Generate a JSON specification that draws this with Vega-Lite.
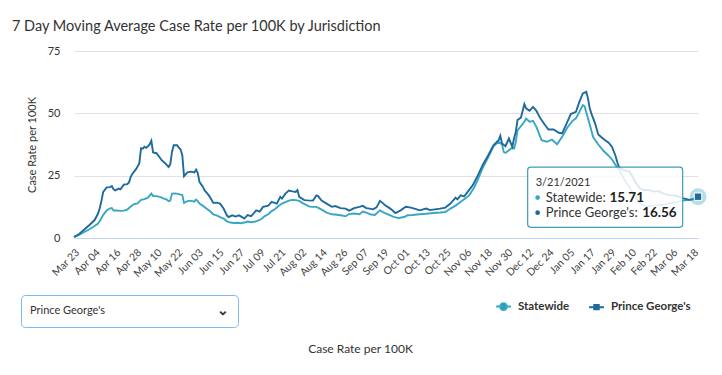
{
  "$schema": "https://vega.github.io/schema/vega-lite/v6.json",
  "width": 624,
  "height": 187,
  "autosize": {"type": "none"},
  "padding": {"left": 74, "top": 51, "right": 24, "bottom": 137},
  "background": "white",
  "config": {
    "font": "Lato",
    "view": {"stroke": null},
    "axis": {"labelFont": "Lato", "titleFont": "Lato"}
  },
  "title": {
    "text": "7 Day Moving Average Case Rate per 100K by Jurisdiction",
    "anchor": "start",
    "frame": "group",
    "dx": -62,
    "offset": 11,
    "fontSize": 14.5,
    "fontWeight": "normal",
    "color": "#333333"
  },
  "datasets": {
    "cases": [
      {"date": "2020-03-23", "series": "Statewide", "value": 0.4},
      {"date": "2020-03-26", "series": "Statewide", "value": 1.2},
      {"date": "2020-03-29", "series": "Statewide", "value": 2.4},
      {"date": "2020-04-01", "series": "Statewide", "value": 3.5},
      {"date": "2020-04-04", "series": "Statewide", "value": 4.8},
      {"date": "2020-04-06", "series": "Statewide", "value": 5.8},
      {"date": "2020-04-07", "series": "Statewide", "value": 6.8},
      {"date": "2020-04-09", "series": "Statewide", "value": 9.3},
      {"date": "2020-04-11", "series": "Statewide", "value": 11.0},
      {"date": "2020-04-13", "series": "Statewide", "value": 11.9},
      {"date": "2020-04-14", "series": "Statewide", "value": 12.0},
      {"date": "2020-04-15", "series": "Statewide", "value": 11.0},
      {"date": "2020-04-17", "series": "Statewide", "value": 11.0},
      {"date": "2020-04-19", "series": "Statewide", "value": 10.9},
      {"date": "2020-04-21", "series": "Statewide", "value": 11.0},
      {"date": "2020-04-23", "series": "Statewide", "value": 11.4},
      {"date": "2020-04-25", "series": "Statewide", "value": 12.6},
      {"date": "2020-04-27", "series": "Statewide", "value": 13.6},
      {"date": "2020-04-29", "series": "Statewide", "value": 13.9},
      {"date": "2020-05-01", "series": "Statewide", "value": 15.3},
      {"date": "2020-05-03", "series": "Statewide", "value": 15.6},
      {"date": "2020-05-05", "series": "Statewide", "value": 16.2},
      {"date": "2020-05-07", "series": "Statewide", "value": 17.8},
      {"date": "2020-05-08", "series": "Statewide", "value": 16.8},
      {"date": "2020-05-10", "series": "Statewide", "value": 16.8},
      {"date": "2020-05-12", "series": "Statewide", "value": 16.5},
      {"date": "2020-05-14", "series": "Statewide", "value": 15.9},
      {"date": "2020-05-16", "series": "Statewide", "value": 15.4},
      {"date": "2020-05-17", "series": "Statewide", "value": 14.8},
      {"date": "2020-05-18", "series": "Statewide", "value": 15.0},
      {"date": "2020-05-19", "series": "Statewide", "value": 17.8},
      {"date": "2020-05-21", "series": "Statewide", "value": 17.9},
      {"date": "2020-05-23", "series": "Statewide", "value": 17.6},
      {"date": "2020-05-25", "series": "Statewide", "value": 17.2},
      {"date": "2020-05-26", "series": "Statewide", "value": 14.1},
      {"date": "2020-05-28", "series": "Statewide", "value": 14.8},
      {"date": "2020-05-30", "series": "Statewide", "value": 15.0},
      {"date": "2020-06-01", "series": "Statewide", "value": 14.6},
      {"date": "2020-06-02", "series": "Statewide", "value": 15.4},
      {"date": "2020-06-03", "series": "Statewide", "value": 14.8},
      {"date": "2020-06-04", "series": "Statewide", "value": 13.8},
      {"date": "2020-06-06", "series": "Statewide", "value": 12.9},
      {"date": "2020-06-08", "series": "Statewide", "value": 11.8},
      {"date": "2020-06-10", "series": "Statewide", "value": 10.8},
      {"date": "2020-06-12", "series": "Statewide", "value": 9.5},
      {"date": "2020-06-14", "series": "Statewide", "value": 9.1},
      {"date": "2020-06-16", "series": "Statewide", "value": 8.4},
      {"date": "2020-06-18", "series": "Statewide", "value": 7.8},
      {"date": "2020-06-20", "series": "Statewide", "value": 6.7},
      {"date": "2020-06-22", "series": "Statewide", "value": 6.2},
      {"date": "2020-06-24", "series": "Statewide", "value": 6.0},
      {"date": "2020-06-26", "series": "Statewide", "value": 6.1},
      {"date": "2020-06-28", "series": "Statewide", "value": 5.9},
      {"date": "2020-06-30", "series": "Statewide", "value": 6.2},
      {"date": "2020-07-02", "series": "Statewide", "value": 6.6},
      {"date": "2020-07-04", "series": "Statewide", "value": 6.3},
      {"date": "2020-07-06", "series": "Statewide", "value": 6.5},
      {"date": "2020-07-08", "series": "Statewide", "value": 7.0},
      {"date": "2020-07-10", "series": "Statewide", "value": 7.6},
      {"date": "2020-07-12", "series": "Statewide", "value": 8.8},
      {"date": "2020-07-14", "series": "Statewide", "value": 9.5},
      {"date": "2020-07-16", "series": "Statewide", "value": 10.8},
      {"date": "2020-07-18", "series": "Statewide", "value": 11.6},
      {"date": "2020-07-20", "series": "Statewide", "value": 12.8},
      {"date": "2020-07-22", "series": "Statewide", "value": 13.8},
      {"date": "2020-07-24", "series": "Statewide", "value": 14.4},
      {"date": "2020-07-26", "series": "Statewide", "value": 15.0},
      {"date": "2020-07-28", "series": "Statewide", "value": 15.3},
      {"date": "2020-07-30", "series": "Statewide", "value": 15.2},
      {"date": "2020-08-01", "series": "Statewide", "value": 14.9},
      {"date": "2020-08-03", "series": "Statewide", "value": 14.0},
      {"date": "2020-08-05", "series": "Statewide", "value": 13.3},
      {"date": "2020-08-07", "series": "Statewide", "value": 12.6},
      {"date": "2020-08-09", "series": "Statewide", "value": 12.5},
      {"date": "2020-08-11", "series": "Statewide", "value": 12.5},
      {"date": "2020-08-13", "series": "Statewide", "value": 11.8},
      {"date": "2020-08-15", "series": "Statewide", "value": 11.0},
      {"date": "2020-08-17", "series": "Statewide", "value": 10.2},
      {"date": "2020-08-20", "series": "Statewide", "value": 9.5},
      {"date": "2020-08-23", "series": "Statewide", "value": 9.3},
      {"date": "2020-08-26", "series": "Statewide", "value": 9.0},
      {"date": "2020-08-28", "series": "Statewide", "value": 8.7},
      {"date": "2020-08-30", "series": "Statewide", "value": 9.6},
      {"date": "2020-09-02", "series": "Statewide", "value": 9.8},
      {"date": "2020-09-05", "series": "Statewide", "value": 9.5},
      {"date": "2020-09-07", "series": "Statewide", "value": 10.6},
      {"date": "2020-09-09", "series": "Statewide", "value": 10.2},
      {"date": "2020-09-12", "series": "Statewide", "value": 9.4},
      {"date": "2020-09-14", "series": "Statewide", "value": 9.2},
      {"date": "2020-09-17", "series": "Statewide", "value": 11.1},
      {"date": "2020-09-19", "series": "Statewide", "value": 10.3},
      {"date": "2020-09-22", "series": "Statewide", "value": 9.4},
      {"date": "2020-09-25", "series": "Statewide", "value": 8.5},
      {"date": "2020-09-28", "series": "Statewide", "value": 8.0},
      {"date": "2020-10-01", "series": "Statewide", "value": 8.4},
      {"date": "2020-10-03", "series": "Statewide", "value": 9.1},
      {"date": "2020-10-06", "series": "Statewide", "value": 9.2},
      {"date": "2020-10-10", "series": "Statewide", "value": 9.5},
      {"date": "2020-10-14", "series": "Statewide", "value": 9.7},
      {"date": "2020-10-18", "series": "Statewide", "value": 10.0},
      {"date": "2020-10-22", "series": "Statewide", "value": 10.2},
      {"date": "2020-10-25", "series": "Statewide", "value": 10.4},
      {"date": "2020-10-28", "series": "Statewide", "value": 11.8},
      {"date": "2020-10-31", "series": "Statewide", "value": 13.0},
      {"date": "2020-11-03", "series": "Statewide", "value": 14.5},
      {"date": "2020-11-06", "series": "Statewide", "value": 16.0},
      {"date": "2020-11-08", "series": "Statewide", "value": 17.2},
      {"date": "2020-11-11", "series": "Statewide", "value": 20.5},
      {"date": "2020-11-13", "series": "Statewide", "value": 23.5},
      {"date": "2020-11-16", "series": "Statewide", "value": 28.5},
      {"date": "2020-11-19", "series": "Statewide", "value": 32.5},
      {"date": "2020-11-22", "series": "Statewide", "value": 36.8},
      {"date": "2020-11-25", "series": "Statewide", "value": 38.6},
      {"date": "2020-11-27", "series": "Statewide", "value": 37.5},
      {"date": "2020-11-28", "series": "Statewide", "value": 34.5},
      {"date": "2020-11-29", "series": "Statewide", "value": 34.1},
      {"date": "2020-12-01", "series": "Statewide", "value": 35.2},
      {"date": "2020-12-03", "series": "Statewide", "value": 36.3},
      {"date": "2020-12-04", "series": "Statewide", "value": 35.9},
      {"date": "2020-12-05", "series": "Statewide", "value": 38.5},
      {"date": "2020-12-06", "series": "Statewide", "value": 43.2},
      {"date": "2020-12-08", "series": "Statewide", "value": 44.9},
      {"date": "2020-12-10", "series": "Statewide", "value": 46.6},
      {"date": "2020-12-11", "series": "Statewide", "value": 47.9},
      {"date": "2020-12-13", "series": "Statewide", "value": 46.6},
      {"date": "2020-12-15", "series": "Statewide", "value": 47.0},
      {"date": "2020-12-17", "series": "Statewide", "value": 44.6},
      {"date": "2020-12-20", "series": "Statewide", "value": 39.2},
      {"date": "2020-12-23", "series": "Statewide", "value": 38.6},
      {"date": "2020-12-26", "series": "Statewide", "value": 39.5},
      {"date": "2020-12-29", "series": "Statewide", "value": 37.6},
      {"date": "2021-01-01", "series": "Statewide", "value": 40.6},
      {"date": "2021-01-04", "series": "Statewide", "value": 44.3},
      {"date": "2021-01-07", "series": "Statewide", "value": 47.0},
      {"date": "2021-01-09", "series": "Statewide", "value": 48.0},
      {"date": "2021-01-11", "series": "Statewide", "value": 50.6},
      {"date": "2021-01-13", "series": "Statewide", "value": 53.3},
      {"date": "2021-01-14", "series": "Statewide", "value": 52.8},
      {"date": "2021-01-16", "series": "Statewide", "value": 48.0},
      {"date": "2021-01-17", "series": "Statewide", "value": 45.5},
      {"date": "2021-01-19", "series": "Statewide", "value": 40.5},
      {"date": "2021-01-22", "series": "Statewide", "value": 37.5},
      {"date": "2021-01-25", "series": "Statewide", "value": 35.0},
      {"date": "2021-01-28", "series": "Statewide", "value": 33.0},
      {"date": "2021-01-30", "series": "Statewide", "value": 31.5},
      {"date": "2021-02-01", "series": "Statewide", "value": 29.3},
      {"date": "2021-02-03", "series": "Statewide", "value": 27.5},
      {"date": "2021-02-05", "series": "Statewide", "value": 25.0},
      {"date": "2021-02-07", "series": "Statewide", "value": 22.5},
      {"date": "2021-02-09", "series": "Statewide", "value": 20.5},
      {"date": "2021-02-11", "series": "Statewide", "value": 18.0},
      {"date": "2021-02-13", "series": "Statewide", "value": 15.9},
      {"date": "2021-02-15", "series": "Statewide", "value": 14.3},
      {"date": "2021-02-17", "series": "Statewide", "value": 13.2},
      {"date": "2021-02-20", "series": "Statewide", "value": 12.8},
      {"date": "2021-02-23", "series": "Statewide", "value": 13.0},
      {"date": "2021-02-26", "series": "Statewide", "value": 13.2},
      {"date": "2021-03-01", "series": "Statewide", "value": 13.4},
      {"date": "2021-03-04", "series": "Statewide", "value": 13.9},
      {"date": "2021-03-08", "series": "Statewide", "value": 14.3},
      {"date": "2021-03-12", "series": "Statewide", "value": 15.0},
      {"date": "2021-03-16", "series": "Statewide", "value": 15.3},
      {"date": "2021-03-19", "series": "Statewide", "value": 15.5},
      {"date": "2021-03-21", "series": "Statewide", "value": 15.71},
      {"date": "2020-03-23", "series": "Prince George's", "value": 0.4},
      {"date": "2020-03-26", "series": "Prince George's", "value": 1.6},
      {"date": "2020-03-29", "series": "Prince George's", "value": 3.4},
      {"date": "2020-04-01", "series": "Prince George's", "value": 5.2},
      {"date": "2020-04-04", "series": "Prince George's", "value": 7.2},
      {"date": "2020-04-06", "series": "Prince George's", "value": 9.8},
      {"date": "2020-04-07", "series": "Prince George's", "value": 12.0},
      {"date": "2020-04-08", "series": "Prince George's", "value": 15.0},
      {"date": "2020-04-09", "series": "Prince George's", "value": 18.5},
      {"date": "2020-04-11", "series": "Prince George's", "value": 20.3},
      {"date": "2020-04-13", "series": "Prince George's", "value": 20.4},
      {"date": "2020-04-14", "series": "Prince George's", "value": 20.8},
      {"date": "2020-04-15", "series": "Prince George's", "value": 19.5},
      {"date": "2020-04-16", "series": "Prince George's", "value": 19.1},
      {"date": "2020-04-18", "series": "Prince George's", "value": 19.8},
      {"date": "2020-04-19", "series": "Prince George's", "value": 19.5},
      {"date": "2020-04-21", "series": "Prince George's", "value": 21.4},
      {"date": "2020-04-23", "series": "Prince George's", "value": 21.6},
      {"date": "2020-04-24", "series": "Prince George's", "value": 22.3},
      {"date": "2020-04-25", "series": "Prince George's", "value": 24.5},
      {"date": "2020-04-26", "series": "Prince George's", "value": 25.8},
      {"date": "2020-04-28", "series": "Prince George's", "value": 27.5},
      {"date": "2020-04-30", "series": "Prince George's", "value": 29.9},
      {"date": "2020-05-01", "series": "Prince George's", "value": 36.0},
      {"date": "2020-05-02", "series": "Prince George's", "value": 35.8},
      {"date": "2020-05-03", "series": "Prince George's", "value": 36.6},
      {"date": "2020-05-04", "series": "Prince George's", "value": 36.2},
      {"date": "2020-05-05", "series": "Prince George's", "value": 36.8},
      {"date": "2020-05-06", "series": "Prince George's", "value": 37.5},
      {"date": "2020-05-07", "series": "Prince George's", "value": 39.0},
      {"date": "2020-05-08", "series": "Prince George's", "value": 34.3},
      {"date": "2020-05-10", "series": "Prince George's", "value": 34.0},
      {"date": "2020-05-12", "series": "Prince George's", "value": 32.2},
      {"date": "2020-05-13", "series": "Prince George's", "value": 31.2},
      {"date": "2020-05-15", "series": "Prince George's", "value": 30.0},
      {"date": "2020-05-17", "series": "Prince George's", "value": 28.5},
      {"date": "2020-05-18", "series": "Prince George's", "value": 29.5},
      {"date": "2020-05-19", "series": "Prince George's", "value": 34.5},
      {"date": "2020-05-20", "series": "Prince George's", "value": 37.2},
      {"date": "2020-05-22", "series": "Prince George's", "value": 37.2},
      {"date": "2020-05-23", "series": "Prince George's", "value": 36.2},
      {"date": "2020-05-24", "series": "Prince George's", "value": 35.5},
      {"date": "2020-05-25", "series": "Prince George's", "value": 33.2},
      {"date": "2020-05-26", "series": "Prince George's", "value": 24.8},
      {"date": "2020-05-28", "series": "Prince George's", "value": 26.3},
      {"date": "2020-05-30", "series": "Prince George's", "value": 26.6},
      {"date": "2020-06-01", "series": "Prince George's", "value": 26.3},
      {"date": "2020-06-02", "series": "Prince George's", "value": 27.4},
      {"date": "2020-06-03", "series": "Prince George's", "value": 26.0},
      {"date": "2020-06-04", "series": "Prince George's", "value": 22.5},
      {"date": "2020-06-06", "series": "Prince George's", "value": 20.5},
      {"date": "2020-06-07", "series": "Prince George's", "value": 19.1},
      {"date": "2020-06-09", "series": "Prince George's", "value": 17.5},
      {"date": "2020-06-10", "series": "Prince George's", "value": 16.5},
      {"date": "2020-06-12", "series": "Prince George's", "value": 14.1},
      {"date": "2020-06-14", "series": "Prince George's", "value": 14.2},
      {"date": "2020-06-16", "series": "Prince George's", "value": 13.8},
      {"date": "2020-06-18", "series": "Prince George's", "value": 11.8},
      {"date": "2020-06-20", "series": "Prince George's", "value": 9.0},
      {"date": "2020-06-21", "series": "Prince George's", "value": 8.4},
      {"date": "2020-06-23", "series": "Prince George's", "value": 9.1},
      {"date": "2020-06-25", "series": "Prince George's", "value": 8.6},
      {"date": "2020-06-27", "series": "Prince George's", "value": 9.1},
      {"date": "2020-06-29", "series": "Prince George's", "value": 8.3},
      {"date": "2020-06-30", "series": "Prince George's", "value": 7.8},
      {"date": "2020-07-02", "series": "Prince George's", "value": 9.2},
      {"date": "2020-07-04", "series": "Prince George's", "value": 8.8},
      {"date": "2020-07-05", "series": "Prince George's", "value": 9.5},
      {"date": "2020-07-07", "series": "Prince George's", "value": 11.1},
      {"date": "2020-07-09", "series": "Prince George's", "value": 10.6},
      {"date": "2020-07-11", "series": "Prince George's", "value": 12.5},
      {"date": "2020-07-14", "series": "Prince George's", "value": 13.0},
      {"date": "2020-07-16", "series": "Prince George's", "value": 14.5},
      {"date": "2020-07-19", "series": "Prince George's", "value": 13.8},
      {"date": "2020-07-21", "series": "Prince George's", "value": 16.5},
      {"date": "2020-07-22", "series": "Prince George's", "value": 15.8},
      {"date": "2020-07-24", "series": "Prince George's", "value": 17.8},
      {"date": "2020-07-26", "series": "Prince George's", "value": 19.0},
      {"date": "2020-07-28", "series": "Prince George's", "value": 18.7},
      {"date": "2020-07-30", "series": "Prince George's", "value": 18.5},
      {"date": "2020-07-31", "series": "Prince George's", "value": 19.2},
      {"date": "2020-08-01", "series": "Prince George's", "value": 16.5},
      {"date": "2020-08-04", "series": "Prince George's", "value": 15.2},
      {"date": "2020-08-06", "series": "Prince George's", "value": 15.1},
      {"date": "2020-08-09", "series": "Prince George's", "value": 15.0},
      {"date": "2020-08-11", "series": "Prince George's", "value": 17.1},
      {"date": "2020-08-12", "series": "Prince George's", "value": 16.8},
      {"date": "2020-08-14", "series": "Prince George's", "value": 15.0},
      {"date": "2020-08-17", "series": "Prince George's", "value": 13.8},
      {"date": "2020-08-20", "series": "Prince George's", "value": 12.5},
      {"date": "2020-08-22", "series": "Prince George's", "value": 12.8},
      {"date": "2020-08-25", "series": "Prince George's", "value": 12.0},
      {"date": "2020-08-28", "series": "Prince George's", "value": 11.8},
      {"date": "2020-08-30", "series": "Prince George's", "value": 11.0},
      {"date": "2020-08-31", "series": "Prince George's", "value": 11.3},
      {"date": "2020-09-02", "series": "Prince George's", "value": 12.0},
      {"date": "2020-09-05", "series": "Prince George's", "value": 12.5},
      {"date": "2020-09-07", "series": "Prince George's", "value": 12.9},
      {"date": "2020-09-09", "series": "Prince George's", "value": 12.0},
      {"date": "2020-09-11", "series": "Prince George's", "value": 11.8},
      {"date": "2020-09-13", "series": "Prince George's", "value": 11.5},
      {"date": "2020-09-15", "series": "Prince George's", "value": 12.3},
      {"date": "2020-09-17", "series": "Prince George's", "value": 14.9},
      {"date": "2020-09-19", "series": "Prince George's", "value": 13.8},
      {"date": "2020-09-20", "series": "Prince George's", "value": 13.1},
      {"date": "2020-09-23", "series": "Prince George's", "value": 11.8},
      {"date": "2020-09-26", "series": "Prince George's", "value": 10.0},
      {"date": "2020-09-29", "series": "Prince George's", "value": 11.1},
      {"date": "2020-10-02", "series": "Prince George's", "value": 12.5},
      {"date": "2020-10-05", "series": "Prince George's", "value": 12.2},
      {"date": "2020-10-08", "series": "Prince George's", "value": 11.6},
      {"date": "2020-10-10", "series": "Prince George's", "value": 11.1},
      {"date": "2020-10-14", "series": "Prince George's", "value": 11.8},
      {"date": "2020-10-16", "series": "Prince George's", "value": 11.2},
      {"date": "2020-10-18", "series": "Prince George's", "value": 11.4},
      {"date": "2020-10-22", "series": "Prince George's", "value": 11.8},
      {"date": "2020-10-25", "series": "Prince George's", "value": 12.2},
      {"date": "2020-10-28", "series": "Prince George's", "value": 13.8},
      {"date": "2020-10-31", "series": "Prince George's", "value": 16.2},
      {"date": "2020-11-01", "series": "Prince George's", "value": 15.5},
      {"date": "2020-11-03", "series": "Prince George's", "value": 17.1},
      {"date": "2020-11-05", "series": "Prince George's", "value": 16.7},
      {"date": "2020-11-07", "series": "Prince George's", "value": 18.5},
      {"date": "2020-11-10", "series": "Prince George's", "value": 21.2},
      {"date": "2020-11-13", "series": "Prince George's", "value": 25.2},
      {"date": "2020-11-16", "series": "Prince George's", "value": 29.6},
      {"date": "2020-11-19", "series": "Prince George's", "value": 33.2},
      {"date": "2020-11-22", "series": "Prince George's", "value": 37.2},
      {"date": "2020-11-25", "series": "Prince George's", "value": 39.2},
      {"date": "2020-11-26", "series": "Prince George's", "value": 41.0},
      {"date": "2020-11-27", "series": "Prince George's", "value": 37.9},
      {"date": "2020-11-29", "series": "Prince George's", "value": 36.8},
      {"date": "2020-12-01", "series": "Prince George's", "value": 39.9},
      {"date": "2020-12-03", "series": "Prince George's", "value": 36.6},
      {"date": "2020-12-04", "series": "Prince George's", "value": 40.0},
      {"date": "2020-12-05", "series": "Prince George's", "value": 42.5},
      {"date": "2020-12-06", "series": "Prince George's", "value": 47.3},
      {"date": "2020-12-08", "series": "Prince George's", "value": 48.3},
      {"date": "2020-12-10", "series": "Prince George's", "value": 53.7},
      {"date": "2020-12-11", "series": "Prince George's", "value": 52.0},
      {"date": "2020-12-13", "series": "Prince George's", "value": 51.0},
      {"date": "2020-12-15", "series": "Prince George's", "value": 52.6},
      {"date": "2020-12-17", "series": "Prince George's", "value": 51.0},
      {"date": "2020-12-19", "series": "Prince George's", "value": 48.3},
      {"date": "2020-12-22", "series": "Prince George's", "value": 45.3},
      {"date": "2020-12-24", "series": "Prince George's", "value": 43.5},
      {"date": "2020-12-27", "series": "Prince George's", "value": 43.5},
      {"date": "2020-12-30", "series": "Prince George's", "value": 42.2},
      {"date": "2021-01-01", "series": "Prince George's", "value": 42.0},
      {"date": "2021-01-04", "series": "Prince George's", "value": 46.6},
      {"date": "2021-01-06", "series": "Prince George's", "value": 49.7},
      {"date": "2021-01-09", "series": "Prince George's", "value": 50.6},
      {"date": "2021-01-11", "series": "Prince George's", "value": 54.6},
      {"date": "2021-01-13", "series": "Prince George's", "value": 58.0},
      {"date": "2021-01-15", "series": "Prince George's", "value": 58.6},
      {"date": "2021-01-16", "series": "Prince George's", "value": 56.0},
      {"date": "2021-01-17", "series": "Prince George's", "value": 52.0},
      {"date": "2021-01-18", "series": "Prince George's", "value": 49.9},
      {"date": "2021-01-20", "series": "Prince George's", "value": 46.2},
      {"date": "2021-01-22", "series": "Prince George's", "value": 41.5},
      {"date": "2021-01-24", "series": "Prince George's", "value": 40.3},
      {"date": "2021-01-26", "series": "Prince George's", "value": 39.2},
      {"date": "2021-01-28", "series": "Prince George's", "value": 38.2},
      {"date": "2021-01-30", "series": "Prince George's", "value": 36.5},
      {"date": "2021-02-01", "series": "Prince George's", "value": 33.0},
      {"date": "2021-02-02", "series": "Prince George's", "value": 30.5},
      {"date": "2021-02-03", "series": "Prince George's", "value": 28.5},
      {"date": "2021-02-05", "series": "Prince George's", "value": 27.5},
      {"date": "2021-02-07", "series": "Prince George's", "value": 27.0},
      {"date": "2021-02-09", "series": "Prince George's", "value": 26.8},
      {"date": "2021-02-11", "series": "Prince George's", "value": 24.5},
      {"date": "2021-02-13", "series": "Prince George's", "value": 22.0},
      {"date": "2021-02-15", "series": "Prince George's", "value": 20.0},
      {"date": "2021-02-17", "series": "Prince George's", "value": 19.2},
      {"date": "2021-02-20", "series": "Prince George's", "value": 19.3},
      {"date": "2021-02-23", "series": "Prince George's", "value": 18.6},
      {"date": "2021-02-26", "series": "Prince George's", "value": 18.8},
      {"date": "2021-03-01", "series": "Prince George's", "value": 17.8},
      {"date": "2021-03-04", "series": "Prince George's", "value": 17.2},
      {"date": "2021-03-08", "series": "Prince George's", "value": 17.0},
      {"date": "2021-03-12", "series": "Prince George's", "value": 16.0},
      {"date": "2021-03-16", "series": "Prince George's", "value": 15.3},
      {"date": "2021-03-19", "series": "Prince George's", "value": 15.8},
      {"date": "2021-03-21", "series": "Prince George's", "value": 16.56}
    ]
  },
  "layer": [
    {
      "data": {"name": "cases"},
      "mark": {"type": "line", "strokeWidth": 1.9, "interpolate": "linear"},
      "encoding": {
        "x": {
          "field": "date",
          "type": "temporal",
          "scale": {
            "type": "utc",
            "domain": [
              {"year": 2020, "month": 3, "date": 23, "utc": true},
              {"year": 2021, "month": 3, "date": 21, "utc": true}
            ]
          },
          "axis": {
            "values": [
              {"year": 2020, "month": 3, "date": 23, "utc": true},
              {"year": 2020, "month": 4, "date": 4, "utc": true},
              {"year": 2020, "month": 4, "date": 16, "utc": true},
              {"year": 2020, "month": 4, "date": 28, "utc": true},
              {"year": 2020, "month": 5, "date": 10, "utc": true},
              {"year": 2020, "month": 5, "date": 22, "utc": true},
              {"year": 2020, "month": 6, "date": 3, "utc": true},
              {"year": 2020, "month": 6, "date": 15, "utc": true},
              {"year": 2020, "month": 6, "date": 27, "utc": true},
              {"year": 2020, "month": 7, "date": 9, "utc": true},
              {"year": 2020, "month": 7, "date": 21, "utc": true},
              {"year": 2020, "month": 8, "date": 2, "utc": true},
              {"year": 2020, "month": 8, "date": 14, "utc": true},
              {"year": 2020, "month": 8, "date": 26, "utc": true},
              {"year": 2020, "month": 9, "date": 7, "utc": true},
              {"year": 2020, "month": 9, "date": 19, "utc": true},
              {"year": 2020, "month": 10, "date": 1, "utc": true},
              {"year": 2020, "month": 10, "date": 13, "utc": true},
              {"year": 2020, "month": 10, "date": 25, "utc": true},
              {"year": 2020, "month": 11, "date": 6, "utc": true},
              {"year": 2020, "month": 11, "date": 18, "utc": true},
              {"year": 2020, "month": 11, "date": 30, "utc": true},
              {"year": 2020, "month": 12, "date": 12, "utc": true},
              {"year": 2020, "month": 12, "date": 24, "utc": true},
              {"year": 2021, "month": 1, "date": 5, "utc": true},
              {"year": 2021, "month": 1, "date": 17, "utc": true},
              {"year": 2021, "month": 1, "date": 29, "utc": true},
              {"year": 2021, "month": 2, "date": 10, "utc": true},
              {"year": 2021, "month": 2, "date": 22, "utc": true},
              {"year": 2021, "month": 3, "date": 6, "utc": true},
              {"year": 2021, "month": 3, "date": 18, "utc": true}
            ],
            "tickCount": 40,
            "format": "%b %d",
            "labelAngle": -45,
            "labelFontSize": 10.5,
            "labelColor": "#444444",
            "labelPadding": 9,
            "labelOverlap": false,
            "labelBound": false,
            "ticks": false,
            "grid": false,
            "domainColor": "#c4d3ee",
            "domainWidth": 1,
            "title": "Case Rate per 100K",
            "titleFontSize": 12,
            "titleFontWeight": "normal",
            "titleColor": "#333333",
            "titleX": 286,
            "titleY": 110,
            "titleAlign": "center",
            "titleBaseline": "middle"
          }
        },
        "y": {
          "field": "value",
          "type": "quantitative",
          "scale": {"domain": [0, 75], "nice": false},
          "axis": {
            "values": [0, 25, 50, 75],
            "domain": false,
            "ticks": false,
            "labelPadding": 14,
            "labelFontSize": 11,
            "labelColor": "#333333",
            "gridColor": "#e2e2e2",
            "title": "Case Rate per 100K",
            "titleFontSize": 11,
            "titleFontWeight": "normal",
            "titleColor": "#333333",
            "titlePadding": 10
          }
        },
        "color": {
          "field": "series",
          "type": "nominal",
          "scale": {"domain": ["Statewide", "Prince George's"], "range": ["#37a7c3", "#1f6a9c"]},
          "legend": {
            "title": null,
            "orient": "none",
            "direction": "horizontal",
            "legendX": 421,
            "legendY": 247,
            "padding": 0,
            "symbolSize": 220,
            "symbolStrokeWidth": 2,
            "labelFontSize": 11.5,
            "labelFontWeight": "bold",
            "labelColor": "#333333",
            "labelOffset": 6,
            "columnPadding": 15,
            "encode": {
              "symbols": {
                "update": {
                  "shape": {"signal": "datum.value === 'Statewide' ? 'M-1,0H1M-0.45,0A0.45,0.45,0,1,1,0.45,0A0.45,0.45,0,1,1,-0.45,0Z' : 'M-1,0H1M-0.3,-0.3H0.3V0.3H-0.3Z'"},
                  "fill": {"signal": "datum.value === 'Statewide' ? '#1f93b5' : '#2a6ea0'"},
                  "stroke": {"signal": "datum.value === 'Statewide' ? '#1f93b5' : '#9cc6e4'"}
                }
              }
            }
          }
        }
      }
    },
    {
      "data": {"values": [{}]},
      "mark": {"type": "rect", "fill": "white", "fillOpacity": 0.84, "stroke": "#3f9db7", "strokeWidth": 1.2, "cornerRadius": 3},
      "encoding": {
        "x": {"datum": {"year": 2020, "month": 12, "date": 11, "hours": 22, "utc": true}, "type": "temporal"},
        "x2": {"datum": {"year": 2021, "month": 3, "date": 12, "hours": 2, "utc": true}},
        "y": {"datum": 28.4, "type": "quantitative"},
        "y2": {"datum": 4.3}
      }
    },
    {
      "data": {"values": [{}]},
      "mark": {"type": "text", "text": "3/21/2021", "align": "left", "baseline": "middle", "fontSize": 11, "color": "#333333"},
      "encoding": {
        "x": {"datum": {"year": 2020, "month": 12, "date": 16, "hours": 14, "utc": true}, "type": "temporal"},
        "y": {"datum": 21.9, "type": "quantitative"}
      }
    },
    {
      "data": {"values": [{}]},
      "mark": {"type": "point", "filled": true, "size": 22, "opacity": 1, "color": "#37a7c3"},
      "encoding": {
        "x": {"datum": {"year": 2020, "month": 12, "date": 17, "hours": 17, "utc": true}, "type": "temporal"},
        "y": {"datum": 16.2, "type": "quantitative"}
      }
    },
    {
      "data": {"values": [{}]},
      "mark": {"type": "point", "filled": true, "size": 22, "opacity": 1, "color": "#1f6a9c"},
      "encoding": {
        "x": {"datum": {"year": 2020, "month": 12, "date": 17, "hours": 17, "utc": true}, "type": "temporal"},
        "y": {"datum": 10.15, "type": "quantitative"}
      }
    },
    {
      "data": {"values": [{}]},
      "mark": {"type": "text", "text": "Statewide:", "align": "left", "baseline": "middle", "fontSize": 13, "color": "#333333"},
      "encoding": {
        "x": {"datum": {"year": 2020, "month": 12, "date": 22, "hours": 10, "utc": true}, "type": "temporal"},
        "y": {"datum": 16.2, "type": "quantitative"}
      }
    },
    {
      "data": {"values": [{}]},
      "mark": {"type": "text", "text": "Prince George's:", "align": "left", "baseline": "middle", "fontSize": 13, "color": "#333333"},
      "encoding": {
        "x": {"datum": {"year": 2020, "month": 12, "date": 22, "hours": 10, "utc": true}, "type": "temporal"},
        "y": {"datum": 10.15, "type": "quantitative"}
      }
    },
    {
      "data": {"values": [{}]},
      "mark": {"type": "text", "text": "15.71", "align": "left", "baseline": "middle", "fontSize": 13.5, "fontWeight": "bold", "color": "#222222"},
      "encoding": {
        "x": {"datum": {"year": 2021, "month": 1, "date": 28, "hours": 12, "utc": true}, "type": "temporal"},
        "y": {"datum": 16.2, "type": "quantitative"}
      }
    },
    {
      "data": {"values": [{}]},
      "mark": {"type": "text", "text": "16.56", "align": "left", "baseline": "middle", "fontSize": 13.5, "fontWeight": "bold", "color": "#222222"},
      "encoding": {
        "x": {"datum": {"year": 2021, "month": 2, "date": 16, "hours": 12, "utc": true}, "type": "temporal"},
        "y": {"datum": 10.15, "type": "quantitative"}
      }
    },
    {
      "data": {"name": "cases"},
      "transform": [{"filter": "datum.series == \"Prince George's\" && datum.value == 16.56"}],
      "mark": {"type": "point", "filled": true, "size": 240, "color": "#3aa2c0", "opacity": 0.35, "stroke": "#3aa2c0", "strokeWidth": 1.5},
      "encoding": {
        "x": {"field": "date", "type": "temporal"},
        "y": {"field": "value", "type": "quantitative"}
      }
    },
    {
      "data": {"name": "cases"},
      "transform": [{"filter": "datum.series == \"Prince George's\" && datum.value == 16.56"}],
      "mark": {"type": "point", "filled": true, "size": 55, "color": "#1f6a9c", "opacity": 1, "stroke": "white", "strokeWidth": 1},
      "encoding": {
        "x": {"field": "date", "type": "temporal"},
        "y": {"field": "value", "type": "quantitative"},
        "shape": {
          "field": "series",
          "type": "nominal",
          "scale": {"range": ["square"]},
          "legend": {
            "orient": "none",
            "legendX": -53,
            "legendY": 244,
            "title": "Prince George's",
            "titleOrient": "left",
            "titleAngle": 0,
            "titleBaseline": "middle",
            "titleFontSize": 11,
            "titleFontWeight": "normal",
            "titleColor": "#333333",
            "titlePadding": 93,
            "labelExpr": "'⌄'",
            "labelFontSize": 14,
            "labelFontWeight": "bold",
            "labelColor": "#333333",
            "symbolOpacity": 0,
            "symbolSize": 60,
            "padding": 9,
            "fillColor": "white",
            "strokeColor": "#7fb8f4",
            "cornerRadius": 4,
            "encode": {"legend": {"update": {"strokeWidth": {"value": 2}}}}
          }
        }
      }
    }
  ]
}
